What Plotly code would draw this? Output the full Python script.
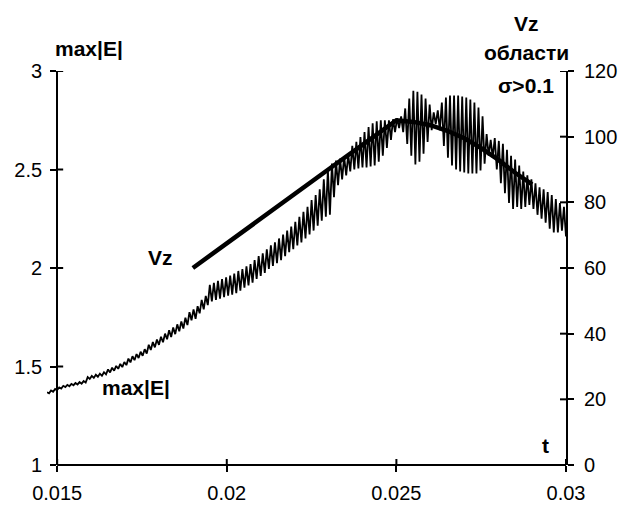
import plotly.graph_objects as go

# ---- data ----
T0 = 0.0147      # first sample time of max|E|
DT = 0.00006     # sampling step of max|E|
max_E = [
    1.369, 1.364, 1.378, 1.372, 1.386, 1.381, 1.394, 1.388, 1.402, 1.396,
    1.407, 1.400, 1.412, 1.405, 1.416, 1.409, 1.421, 1.413, 1.426, 1.418,
    1.446, 1.437, 1.452, 1.442, 1.458, 1.448, 1.464, 1.453, 1.471, 1.460,
    1.485, 1.470, 1.494, 1.479, 1.503, 1.488, 1.513, 1.497, 1.523, 1.507,
    1.540, 1.521, 1.552, 1.532, 1.563, 1.543, 1.575, 1.554, 1.588, 1.566,
    1.610, 1.584, 1.624, 1.597, 1.637, 1.610, 1.651, 1.623, 1.667, 1.638,
    1.684, 1.650, 1.698, 1.664, 1.714, 1.679, 1.729, 1.693, 1.748, 1.710,
    1.776, 1.735, 1.790, 1.742, 1.806, 1.770, 1.838, 1.790, 1.858, 1.812,
    1.915, 1.830, 1.925, 1.838, 1.935, 1.845, 1.944, 1.852, 1.952, 1.860,
    1.962, 1.865, 1.972, 1.872, 1.985, 1.885, 1.995, 1.900, 2.008, 1.912,
    2.020, 1.925, 2.040, 1.945, 2.060, 1.960, 2.075, 1.975, 2.095, 1.995,
    2.115, 2.010, 2.130, 2.025, 2.150, 2.040, 2.170, 2.060, 2.190, 2.080,
    2.210, 2.095, 2.235, 2.115, 2.260, 2.130, 2.285, 2.150, 2.310, 2.170,
    2.345, 2.190, 2.370, 2.215, 2.400, 2.240, 2.450, 2.260, 2.500, 2.270,
    2.530, 2.360, 2.545, 2.420, 2.555, 2.450, 2.565, 2.470, 2.575, 2.490,
    2.620, 2.500, 2.640, 2.505, 2.665, 2.510, 2.690, 2.510, 2.715, 2.515,
    2.735, 2.520, 2.745, 2.540, 2.750, 2.570, 2.750, 2.610, 2.750, 2.650,
    2.755, 2.690, 2.760, 2.710, 2.770, 2.690, 2.810, 2.630, 2.860, 2.570,
    2.900, 2.525, 2.895, 2.540, 2.880, 2.580, 2.860, 2.640, 2.830, 2.700,
    2.790, 2.730, 2.800, 2.700, 2.840, 2.620, 2.865, 2.560, 2.875, 2.520,
    2.875, 2.500, 2.875, 2.490, 2.870, 2.485, 2.865, 2.480, 2.855, 2.480,
    2.840, 2.480, 2.815, 2.495, 2.770, 2.530, 2.680, 2.570, 2.650, 2.560,
    2.660, 2.500, 2.645, 2.430, 2.630, 2.380, 2.600, 2.330, 2.570, 2.300,
    2.550, 2.310, 2.520, 2.300, 2.490, 2.310, 2.470, 2.320, 2.450, 2.300,
    2.430, 2.270, 2.410, 2.250, 2.400, 2.230, 2.385, 2.200, 2.370, 2.180,
    2.350, 2.180, 2.330, 2.190, 2.310, 2.160,
]
t_E = [round(T0 + DT * i, 6) for i in range(len(max_E))]

t_Vz = [0.019, 0.0195, 0.020, 0.0205, 0.021, 0.0215, 0.022, 0.0225, 0.023,
        0.0235, 0.024, 0.0245, 0.025, 0.0255, 0.026, 0.0265, 0.027, 0.0275,
        0.028, 0.0285, 0.029]
Vz = [60, 63.8, 67.5, 71.2, 75, 78.8, 82.5, 86.2, 90, 93.8, 97.5, 101.2, 105,
      104.5, 103.5, 101.8, 99.5, 96.5, 93, 89, 85.5]

x_ticks = [0.015, 0.02, 0.025, 0.03]
x_ticktext = ["0.015", "0.02", "0.025", "0.03"]
yl_ticks = [1, 1.5, 2, 2.5, 3]
yl_ticktext = ["1", "1.5", "2", "2.5", "3"]
yr_ticks = [0, 20, 40, 60, 80, 100, 120]
yr_ticktext = ["0", "20", "40", "60", "80", "100", "120"]

# ---- layout constants ----
W, H = 619, 506
ML, MR, MT, MB = 47, 53, 71, 41
PW, PH = W - ML - MR, H - MT - MB
X_MIN, X_MAX = 0.0147, 0.03
AX_POS = (x_ticks[0] - X_MIN) / (X_MAX - X_MIN)
TL = 6
FONT = "Liberation Sans, Arial, sans-serif"

fig = go.Figure()
fig.add_trace(go.Scatter(x=t_E, y=max_E, mode="lines",
                         line=dict(color="black", width=1.8),
                         yaxis="y", showlegend=False))
fig.add_trace(go.Scatter(x=t_Vz, y=Vz, mode="lines",
                         line=dict(color="black", width=4.5),
                         yaxis="y2", showlegend=False))

shapes = []
# x axis line starting at the left axis
shapes.append(dict(type="line", xref="x", yref="paper", x0=x_ticks[0], x1=x_ticks[-1],
                   y0=0, y1=0, line=dict(color="black", width=2)))
# inner halves of the crossing ticks
for xv in x_ticks:
    shapes.append(dict(type="line", xref="x", yref="paper", x0=xv, x1=xv,
                       y0=0, y1=TL / PH, line=dict(color="black", width=2)))
for yv in yl_ticks:
    shapes.append(dict(type="line", xref="paper", yref="y", x0=AX_POS, x1=AX_POS + TL / PW,
                       y0=yv, y1=yv, line=dict(color="black", width=2)))
for yv in yr_ticks:
    shapes.append(dict(type="line", xref="paper", yref="y2", x0=1 - TL / PW, x1=1,
                       y0=yv, y1=yv, line=dict(color="black", width=2)))

def px(xp, yp):
    return (xp - ML) / PW, (H - MB - yp) / PH

def ann(text, xp, yp):
    x, y = px(xp, yp)
    return dict(text="<b>" + text + "</b>", x=x, y=y, xref="paper", yref="paper",
                showarrow=False, xanchor="center", yanchor="middle",
                font=dict(family=FONT, size=21, color="black"))

annotations = [
    ann("max|E|", 89, 49),
    ann("Vz", 526, 23),
    ann("области", 526, 53),
    ann("σ>0.1", 526, 85),
    ann("Vz", 160, 257),
    ann("max|E|", 136, 387),
    ann("t", 545, 445),
]

axis_common = dict(showgrid=False, zeroline=False, ticks="outside", ticklen=TL,
                   tickwidth=2, tickcolor="black", automargin=False,
                   tickfont=dict(family=FONT, size=20, color="black"))

fig.update_layout(
    width=W, height=H,
    margin=dict(l=ML, r=MR, t=MT, b=MB, pad=0, autoexpand=False),
    paper_bgcolor="white", plot_bgcolor="white",
    showlegend=False,
    shapes=shapes,
    annotations=annotations,
    xaxis=dict(range=[X_MIN, X_MAX], domain=[0, 1], tickmode="array",
               tickvals=x_ticks, ticktext=x_ticktext, showline=False,
               ticklabelstandoff=4, **axis_common),
    yaxis=dict(range=[1, 3], anchor="free", position=AX_POS, tickmode="array",
               tickvals=yl_ticks, ticktext=yl_ticktext, showline=True,
               linecolor="black", linewidth=2, ticklabelstandoff=4, **axis_common),
    yaxis2=dict(range=[0, 120], overlaying="y", side="right", anchor="x",
                tickmode="array", tickvals=yr_ticks, ticktext=yr_ticktext,
                showline=True, linecolor="black", linewidth=2,
                ticklabelstandoff=6, **axis_common),
)

fig.write_html("out.html")
